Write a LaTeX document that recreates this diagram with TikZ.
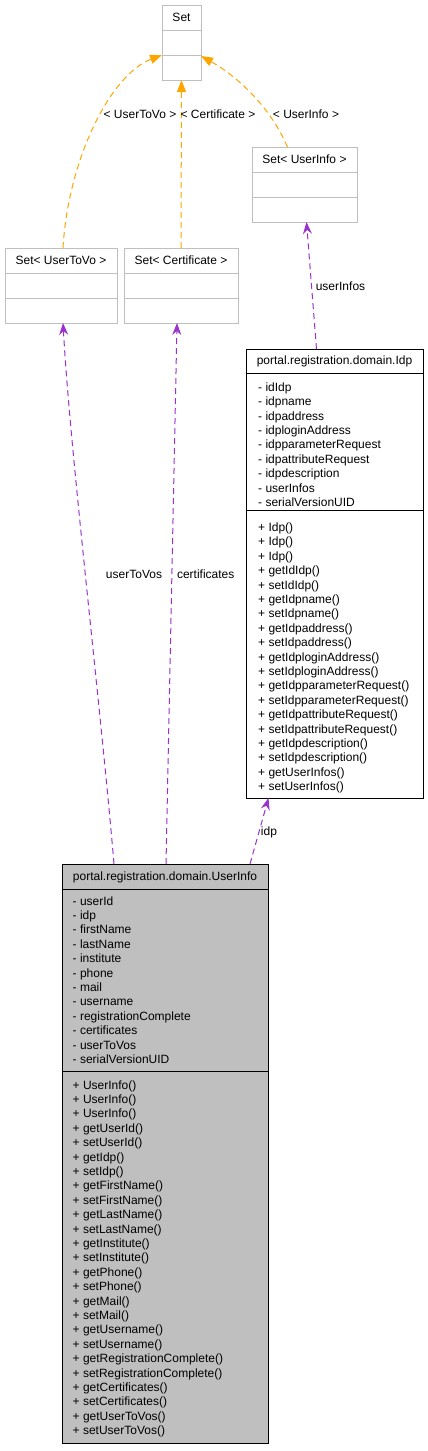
\documentclass[tikz,border=0pt]{standalone}
\usepackage{fontspec}
\setmainfont{Liberation Sans}
\usetikzlibrary{arrows.meta,calc}
\definecolor{eorange}{HTML}{FFA500}
\definecolor{epurple}{HTML}{9A32CD}
\definecolor{sgray}{HTML}{BFBFBF}
\definecolor{ufill}{HTML}{BFBFBF}
\begin{document}
\begin{tikzpicture}[x=1pt,y=-1pt,
  classbox/.style={draw, line width=1pt, anchor=north west, inner sep=0pt, outer sep=0pt},
  lightbox/.style={classbox, draw=sgray, fill=white, minimum height=75pt},
  darkbox/.style={classbox, draw=black},
  txt/.style={anchor=west, inner sep=0pt, font=\fontsize{12}{14.4}\selectfont, text height=9pt, text depth=3pt},
  ctxt/.style={txt, anchor=center},
  lsep/.style={sgray, line width=1pt},
  dsep/.style={black, line width=1pt},
  inh/.style={eorange, line width=1pt, dash pattern=on 6pt off 4pt, -{Triangle[length=12pt,width=9pt]}},
  use/.style={epurple, line width=1pt, dash pattern=on 6pt off 4pt, -{Stealth[length=12pt,width=9pt,inset=4pt]}},
]
\useasboundingbox (0,0) rectangle (428,1451);

% ---- Set boxes ----
\node[lightbox, minimum width=39pt] (set) at (162,5) {};
\node[lightbox, minimum width=105pt] (sui) at (252,147) {};
\node[lightbox, minimum width=112pt] (suv) at (5,248) {};
\node[lightbox, minimum width=114pt] (scert) at (124,248) {};
\foreach \b in {set,sui,suv,scert}{
  \draw[lsep] ($(\b.north west)+(0,25.5)$) -- ($(\b.north east)+(0,25.5)$);
  \draw[lsep] ($(\b.north west)+(0,50)$) -- ($(\b.north east)+(0,50)$);
}
\node[ctxt] (setT) at ($(set.north)+(0,13)$) {Set};
\node[ctxt] (suiT) at ($(sui.north)+(0,13)$) {Set< UserInfo >};
\node[ctxt] (suvT) at ($(suv.north)+(0,13)$) {Set< UserToVo >};
\node[ctxt] (scertT) at ($(scert.north)+(0,13)$) {Set< Certificate >};

% ---- Idp ----
\node[darkbox, fill=white, minimum width=177pt, minimum height=449pt] (idp) at (246,349) {};
\draw[dsep] ($(idp.north west)+(0,24.3)$) -- ($(idp.north east)+(0,24.3)$);
\draw[dsep] ($(idp.north west)+(0,161.7)$) -- ($(idp.north east)+(0,161.7)$);
\node[ctxt] (idpT) at ($(idp.north)+(0,12.5)$) {portal.registration.domain.Idp};
\foreach \t [count=\i from 0] in {{- idIdp},{- idpname},{- idpaddress},{- idploginAddress},{- idpparameterRequest},{- idpattributeRequest},{- idpdescription},{- userInfos},{- serialVersionUID}}
  \node[txt] (ia\i) at (258,388.3+14.4*\i) {\t};
\foreach \t [count=\i from 0] in {{+ Idp()},{+ Idp()},{+ Idp()},{+ getIdIdp()},{+ setIdIdp()},{+ getIdpname()},{+ setIdpname()},{+ getIdpaddress()},{+ setIdpaddress()},{+ getIdploginAddress()},{+ setIdploginAddress()},{+ getIdpparameterRequest()},{+ setIdpparameterRequest()},{+ getIdpattributeRequest()},{+ setIdpattributeRequest()},{+ getIdpdescription()},{+ setIdpdescription()},{+ getUserInfos()},{+ setUserInfos()}}
  \node[txt] (im\i) at (258,528.4+14.4*\i) {\t};

% ---- UserInfo ----
\node[darkbox, fill=ufill, minimum width=206pt, minimum height=579pt] (ui) at (62,864) {};
\draw[dsep] ($(ui.north west)+(0,25)$) -- ($(ui.north east)+(0,25)$);
\draw[dsep] ($(ui.north west)+(0,207.7)$) -- ($(ui.north east)+(0,207.7)$);
\node[ctxt] (uiT) at ($(ui.north)+(0,13)$) {portal.registration.domain.UserInfo};
\foreach \t [count=\i from 0] in {{- userId},{- idp},{- firstName},{- lastName},{- institute},{- phone},{- mail},{- username},{- registrationComplete},{- certificates},{- userToVos},{- serialVersionUID}}
  \node[txt] (ua\i) at (72.5,902+14.4*\i) {\t};
\foreach \t [count=\i from 0] in {{+ UserInfo()},{+ UserInfo()},{+ UserInfo()},{+ getUserId()},{+ setUserId()},{+ getIdp()},{+ setIdp()},{+ getFirstName()},{+ setFirstName()},{+ getLastName()},{+ setLastName()},{+ getInstitute()},{+ setInstitute()},{+ getPhone()},{+ setPhone()},{+ getMail()},{+ setMail()},{+ getUsername()},{+ setUsername()},{+ getRegistrationComplete()},{+ setRegistrationComplete()},{+ getCertificates()},{+ setCertificates()},{+ getUserToVos()},{+ setUserToVos()}}
  \node[txt] (um\i) at (72.5,1086+14.4*\i) {\t};

% ---- inheritance (template) edges ----
\draw[inh] ([xshift=2pt]suv.north) .. controls +(5,-88) and +(-52,20) .. ([yshift=25pt]set.south west);
\draw[inh] (scert.north) -- (set.south);
\draw[inh] ([xshift=-17pt]sui.north) .. controls +(-18,-42) and +(34,19) .. ([yshift=24pt]set.south east);
\node[ctxt] (l1) at (140,115) {< UserToVo >};
\node[ctxt] (l2) at (218,115) {< Certificate >};
\node[ctxt] (l3) at (306,115) {< UserInfo >};

% ---- usage edges ----
\draw[use] ([xshift=-51pt]ui.north) .. controls +(-14,-164) and +(7,127) .. ([xshift=2pt]suv.south);
\draw[use] ([xshift=1pt]ui.north) -- ([xshift=-4pt]scert.south);
\draw[use] ([xshift=85pt]ui.north) -- ([xshift=-66pt]idp.south);
\draw[use] ([xshift=-18pt]idp.north) -- ([xshift=2pt]sui.south);
\node[ctxt] (l4) at (340.5,287) {userInfos};
\node[ctxt] (l5) at (134,575) {userToVos};
\node[ctxt] (l6) at (205.7,575) {certificates};
\node[ctxt] (l7) at (269,832) {idp};
\end{tikzpicture}
\end{document}
